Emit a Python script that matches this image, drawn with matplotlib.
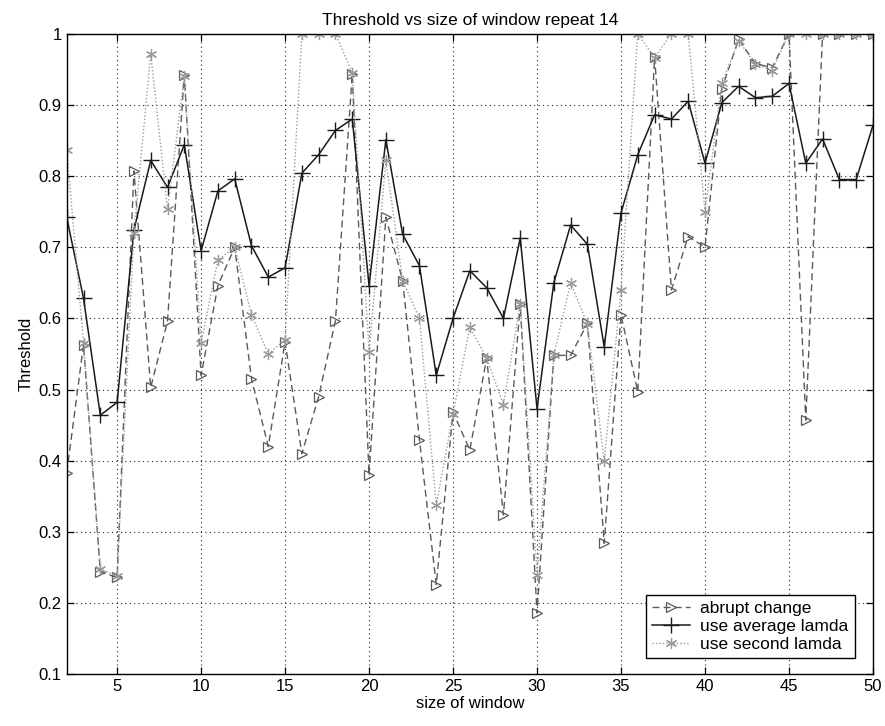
import numpy as np
import matplotlib

matplotlib.use("Agg")
import matplotlib.pyplot as plt
from matplotlib.ticker import FormatStrFormatter, MultipleLocator

plt.rcParams.update(
    {
        "font.family": ["Liberation Sans", "DejaVu Sans"],
        "font.size": 11,
        "xtick.direction": "in",
        "ytick.direction": "in",
        "xtick.top": True,
        "ytick.right": True,
    }
)

# ---------------------------------------------------------------------------
# Data
# ---------------------------------------------------------------------------
window = np.arange(2, 51)

abrupt_change = [
    0.383, 0.563, 0.244, 0.236, 0.807, 0.503, 0.596, 0.942, 0.520, 0.646,
    0.700, 0.515, 0.420, 0.567, 0.410, 0.490, 0.597, 0.943, 0.380, 0.742,
    0.653, 0.429, 0.226, 0.468, 0.415, 0.544, 0.324, 0.620, 0.186, 0.548,
    0.548, 0.593, 0.284, 0.605, 0.497, 0.967, 0.640, 0.715, 0.700, 0.922,
    0.992, 0.958, 0.952, 1.000, 0.457, 1.000, 1.000, 1.000, 1.000,
]

average_lamda = [
    0.742, 0.628, 0.464, 0.482, 0.724, 0.822, 0.784, 0.844, 0.695, 0.779,
    0.796, 0.702, 0.658, 0.671, 0.804, 0.830, 0.864, 0.880, 0.646, 0.851,
    0.718, 0.674, 0.520, 0.600, 0.667, 0.643, 0.600, 0.713, 0.473, 0.650,
    0.731, 0.704, 0.560, 0.748, 0.830, 0.886, 0.880, 0.905, 0.818, 0.903,
    0.926, 0.910, 0.912, 0.930, 0.818, 0.852, 0.795, 0.795, 0.871,
]

second_lamda = [
    0.837, 0.565, 0.248, 0.238, 0.720, 0.972, 0.753, 0.940, 0.565, 0.682,
    0.700, 0.605, 0.550, 0.570, 1.000, 1.000, 1.000, 0.945, 0.553, 0.822,
    0.653, 0.600, 0.338, 0.466, 0.588, 0.544, 0.479, 0.620, 0.240, 0.548,
    0.650, 0.592, 0.400, 0.640, 1.000, 0.966, 1.000, 1.000, 0.750, 0.930,
    0.990, 0.957, 0.948, 1.000, 1.000, 1.000, 1.000, 1.000, 1.000,
]

# ---------------------------------------------------------------------------
# Figure
# ---------------------------------------------------------------------------
fig = plt.figure(figsize=(8.85, 7.26), dpi=100)
ax = fig.add_axes([0.0754, 0.0712, 0.911, 0.8825])

ax.plot(window, abrupt_change, color="#5a5a5a", ls=(0, (5, 3)), lw=1.0,
        marker=">", ms=7, mfc="none", mec="#5a5a5a", mew=0.9, label="abrupt change")
ax.plot(window, average_lamda, color="#1a1a1a", ls="-", lw=1.1,
        marker="+", ms=11, mew=1.0, label="use average lamda")
ax.plot(window, second_lamda, color="#9a9a9a", ls=(0, (1, 1.5)), lw=1.0,
        marker=(6, 2, 0), ms=8, mec="#9a9a9a", mew=0.9, label="use second lamda")

ax.set_xlim(2, 50)
ax.set_ylim(0.1, 1.0)
ax.xaxis.set_major_locator(MultipleLocator(5))
ax.yaxis.set_major_locator(MultipleLocator(0.1))
ax.yaxis.set_major_formatter(FormatStrFormatter("%g"))
ax.grid(True, color="#222222", ls=(0, (1, 3)), lw=0.8)
ax.tick_params(length=5, width=0.9, labelsize=12)
for s in ax.spines.values():
    s.set_linewidth(1.0)

ax.set_title("Threshold vs size of window repeat 14", fontsize=12.5, pad=6)
ax.set_xlabel("size of window", fontsize=12, labelpad=1)
ax.set_ylabel("Threshold", fontsize=12, labelpad=4)

leg = ax.legend(loc="lower right", bbox_to_anchor=(0.988, 0.012), fontsize=12.5,
                fancybox=False, framealpha=1, edgecolor="black",
                handlelength=2.2, borderpad=0.35, labelspacing=0.15, handletextpad=0.6)
leg.get_frame().set_linewidth(1.0)

fig.savefig("out.png", dpi=100)
